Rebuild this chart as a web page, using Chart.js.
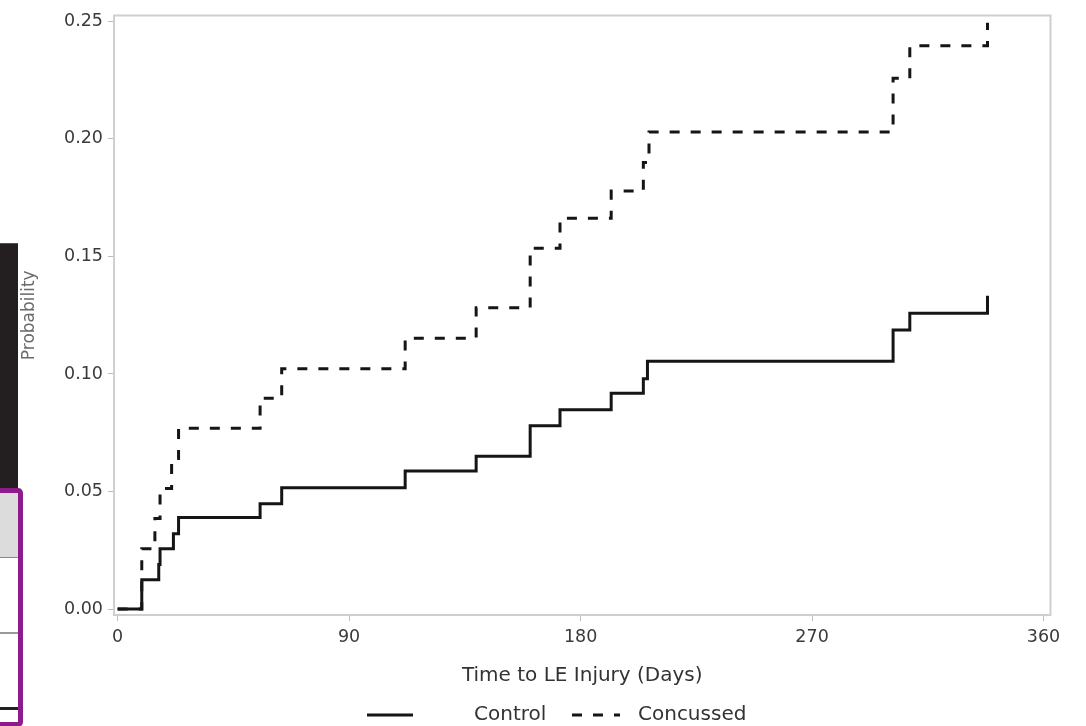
<!DOCTYPE html>
<html>
<head>
<meta charset="utf-8">
<script src="https://cdn.jsdelivr.net/npm/chart.js@4.4.1/dist/chart.umd.min.js"></script>
<style>
  html, body { margin: 0; padding: 0; background: #ffffff; }
  #wrap { position: relative; width: 1086px; height: 726px; overflow: hidden; background: #fff; }
  #c { position: absolute; left: 0; top: 0; }
  .dark { position: absolute; left: 0; top: 243px; width: 18px; height: 246px; background: #231f20; border-top: 1px solid #555; }
  .purple { position: absolute; left: -6px; top: 488px; width: 19px; height: 229px; border: 5px solid #8e1a8c; border-radius: 5px; background: #fff; }
  .purple .band { position: absolute; left: 0; top: 0; right: 0; height: 64px; background: #dcdcdc; border-bottom: 1px solid #888; }
  .purple .l1 { position: absolute; left: 0; right: 0; top: 139px; border-top: 2px solid #999; }
  .purple .l2 { position: absolute; left: 0; right: 0; top: 214px; border-top: 3px solid #222; }
</style>
</head>
<body>
<div id="wrap">
  <div class="dark"></div>
  <div class="purple"><div class="band"></div><div class="l1"></div><div class="l2"></div></div>
  <canvas id="c" width="1086" height="726"></canvas>
</div>
<script>
// ---- data ----
const controlDays  = [0, 9.4, 16.0, 16.5, 21.7, 23.7, 55.4, 63.8, 111.8, 139.4, 160.4, 172.0, 191.9, 204.4, 206.0, 301.5, 308.0, 338.2];
const controlProb  = [0, 0.0125, 0.019, 0.0256, 0.032, 0.039, 0.0448, 0.0516, 0.0587, 0.065, 0.078, 0.0848, 0.0918, 0.098, 0.1054, 0.1187, 0.1258, 0.1333];
const concussDays  = [0, 9.4, 14.5, 16.5, 21.0, 23.7, 55.4, 63.8, 111.8, 139.4, 160.4, 172.0, 191.9, 204.4, 206.6, 301.5, 308.0, 338.2];
const concussProb  = [0, 0.0256, 0.0385, 0.0513, 0.064, 0.0769, 0.0897, 0.1022, 0.1152, 0.1282, 0.1535, 0.1662, 0.1778, 0.190, 0.2029, 0.2258, 0.2396, 0.2494];
const seriesLabels = ['Control', 'Concussed'];
const xTicks = [0, 90, 180, 270, 360];
const yTicks = [0, 0.05, 0.10, 0.15, 0.20, 0.25];
const xTitle = 'Time to LE Injury (Days)';
const yTitle = 'Probability';

const toPts = (xs, ys) => xs.map((x, i) => ({ x: x, y: ys[i] }));
const FONT = '"DejaVu Sans", "Liberation Sans", Arial, sans-serif';

const framePlugin = {
  id: 'frame',
  beforeDatasetsDraw(chart) {
    const a = chart.chartArea, ctx = chart.ctx;
    ctx.save();
    ctx.strokeStyle = '#cfcfcf';
    ctx.lineWidth = 2;
    ctx.strokeRect(a.left, a.top, a.right - a.left, a.bottom - a.top);
    ctx.restore();
  }
};

const legendPlugin = {
  id: 'customLegend',
  afterDraw(chart, args, opts) {
    const ctx = chart.ctx;
    ctx.save();
    ctx.font = opts.fontSize + 'px ' + FONT;
    ctx.textBaseline = 'middle';
    ctx.fillStyle = opts.color;
    chart.data.datasets.forEach((ds, i) => {
      const it = opts.items[i];
      ctx.beginPath();
      ctx.strokeStyle = ds.borderColor;
      ctx.lineWidth = ds.borderWidth;
      ctx.setLineDash(ds.borderDash || []);
      ctx.moveTo(it.lineFrom, opts.y);
      ctx.lineTo(it.lineTo, opts.y);
      ctx.stroke();
      ctx.setLineDash([]);
      ctx.fillText(ds.label, it.textX, opts.y);
    });
    ctx.restore();
  }
};

new Chart(document.getElementById('c'), {
  type: 'line',
  data: {
    datasets: [
      {
        label: seriesLabels[0],
        data: toPts(controlDays, controlProb),
        stepped: 'before',
        borderColor: '#151515',
        borderWidth: 3,
        pointRadius: 0,
        fill: false
      },
      {
        label: seriesLabels[1],
        data: toPts(concussDays, concussProb),
        stepped: 'before',
        borderColor: '#151515',
        borderWidth: 3,
        borderDash: [10, 11],
        pointRadius: 0,
        fill: false
      }
    ]
  },
  options: {
    responsive: false,
    animation: false,
    devicePixelRatio: 1,
    layout: { padding: { top: 11, right: 35.5, left: 0, bottom: 0 } },
    plugins: {
      legend: { display: false },
      tooltip: { enabled: false },
      customLegend: {
        y: 715,
        fontSize: 20,
        color: '#333',
        items: [
          { lineFrom: 367, lineTo: 413, textX: 474 },
          { lineFrom: 572, lineTo: 620, textX: 638 }
        ]
      }
    },
    scales: {
      x: {
        type: 'linear',
        min: -1.4,
        max: 362.7,
        afterBuildTicks: (s) => { s.ticks = xTicks.map(v => ({ value: v })); },
        afterFit: (s) => { s.height = 111; },
        grid: { display: true, drawOnChartArea: false, drawTicks: true, tickLength: 6, color: '#bdbdbd', tickColor: '#bdbdbd' },
        border: { display: false },
        ticks: { color: '#3a3a3a', font: { family: FONT, size: 17.5 }, padding: 6, maxRotation: 0, autoSkip: false, callback: (v) => String(v) },
        title: { display: true, text: xTitle, color: '#333', font: { family: FONT, size: 20 }, padding: { top: 0, bottom: 38 } }
      },
      y: {
        type: 'linear',
        min: -0.00253,
        max: 0.2525,
        afterBuildTicks: (s) => { s.ticks = yTicks.map(v => ({ value: v })); },
        afterFit: (s) => { s.width = 114; },
        grid: { display: true, drawOnChartArea: false, drawTicks: true, tickLength: 6, color: '#bdbdbd', tickColor: '#bdbdbd' },
        border: { display: false },
        ticks: { color: '#3a3a3a', font: { family: FONT, size: 17.5 }, padding: 5, autoSkip: false, callback: (v) => Number(v).toFixed(2) },
        title: { display: true, text: yTitle, color: '#6a6a6a', font: { family: FONT, size: 17 }, padding: { top: 19, bottom: 0 } }
      }
    }
  },
  plugins: [framePlugin, legendPlugin]
});
</script>
</body>
</html>
